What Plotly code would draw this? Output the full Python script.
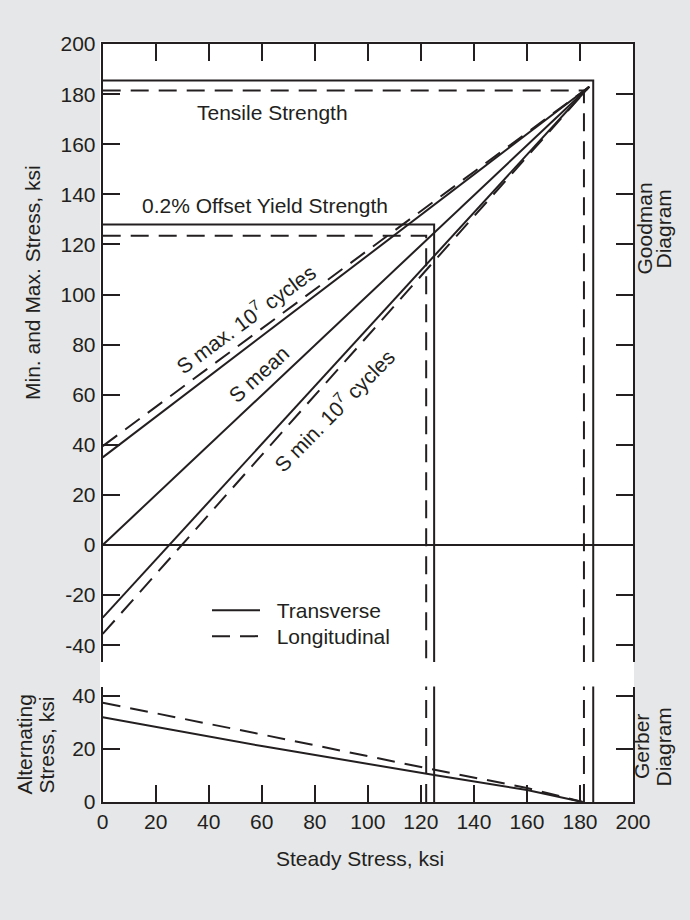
import plotly.graph_objects as go

INK = "#231f20"
BG = "#e6e7e8"
FONT = "Liberation Sans, Arial, Helvetica, sans-serif"
FS = 21
DASH = "18px,10px"
NB = "\u00a0\u00a0"

# ---------------- data (ksi) ----------------
x_tick_vals = [0, 20, 40, 60, 80, 100, 120, 140, 160, 180, 200]
goodman_tick_vals = [-40, -20, 0, 20, 40, 60, 80, 100, 120, 140, 160, 180, 200]
goodman_tick_text = ["-40", "-20", "0", "20", "40", "60", "80", "100", "120", "140",
                     "160", "180", "200"]
gerber_tick_vals = [0, 20, 40]

# Goodman diagram, transverse (solid)
tr_smax_x = [0, 183.5]
tr_smax_y = [35, 183]
tr_smean_x = [0, 183.5]
tr_smean_y = [0, 183]
tr_smin_x = [0, 183.5]
tr_smin_y = [-29, 183]
tr_uts_x = [0, 185, 185]
tr_uts_y = [185.5, 185.5, -60]
tr_ys_x = [0, 125, 125]
tr_ys_y = [128, 128, -60]

# Goodman diagram, longitudinal (dashed)
lo_smax_x = [0, 183.5]
lo_smax_y = [39.5, 183]
lo_smin_x = [0, 183.5]
lo_smin_y = [-35.5, 183]
lo_uts_x = [0, 181.5, 181.5]
lo_uts_y = [181.5, 181.5, -60]
lo_ys_x = [0, 122, 122]
lo_ys_y = [123.5, 123.5, -60]

# Gerber diagram (alternating stress vs steady stress)
gerber_tr_x = [0, 60, 125, 160, 181]
gerber_tr_y = [32, 21.1, 10.2, 4.5, 0]
gerber_lo_x = [0, 60, 122, 160, 181]
gerber_lo_y = [37.5, 25.5, 12.8, 5.3, 0]
# yield / tensile limits carried into the Gerber panel
gerber_tr_limits = [125, 185]
gerber_lo_limits = [122, 181.5]
gerber_limit_span = [0, 60]

# ---------------- figure ----------------
W, H = 690, 920
fig = go.Figure()


def line(x, y, dash, xa="x", ya="y", name=None, legend=False, lg="legend"):
    fig.add_trace(go.Scatter(
        x=x, y=y, mode="lines", xaxis=xa, yaxis=ya,
        line=dict(color=INK, width=2, dash=dash),
        name=name, showlegend=legend, legend=lg, hoverinfo="skip"))


# transverse
line(tr_smax_x, tr_smax_y, "solid", name=NB + "Transverse", legend=True, lg="legend")
line(tr_smean_x, tr_smean_y, "solid")
line(tr_smin_x, tr_smin_y, "solid")
line(tr_uts_x, tr_uts_y, "solid")
line(tr_ys_x, tr_ys_y, "solid")
# longitudinal
line(lo_smax_x, lo_smax_y, DASH, name=NB + "Longitudinal", legend=True, lg="legend2")
line(lo_smin_x, lo_smin_y, DASH)
line(lo_uts_x, lo_uts_y, DASH)
line(lo_ys_x, lo_ys_y, DASH)
# Gerber
line(gerber_tr_x, gerber_tr_y, "solid", "x2", "y2")
line(gerber_lo_x, gerber_lo_y, DASH, "x2", "y2")
for v in gerber_tr_limits:
    line([v, v], gerber_limit_span, "solid", "x2", "y2")
for v in gerber_lo_limits:
    line([v, v], gerber_limit_span, DASH, "x2", "y2")


def px_x(p):
    return p / W


def px_y(p):
    return 1 - p / H


XDOM = [px_x(102.7), px_x(633)]
TOP_DOM = [px_y(662), px_y(44)]
BOT_DOM = [px_y(802), px_y(686.5)]

axis_common = dict(showline=True, linecolor=INK, linewidth=2, ticks="inside",
                   ticklen=17, tickwidth=2, tickcolor=INK, showgrid=False,
                   zeroline=False, tickfont=dict(family=FONT, size=FS, color=INK),
                   fixedrange=True)

legend_common = dict(xanchor="left", yanchor="top", bgcolor="rgba(0,0,0,0)",
                     borderwidth=0, itemwidth=48,
                     font=dict(family=FONT, size=FS, color=INK))

fig.update_layout(
    width=W, height=H,
    margin=dict(l=0, r=0, t=0, b=0, autoexpand=False),
    paper_bgcolor=BG, plot_bgcolor="white",
    font=dict(family=FONT, size=FS, color=INK),
    xaxis=dict(**axis_common, domain=XDOM, range=[0, 200], anchor="y", side="top",
               tickmode="array", tickvals=x_tick_vals, showticklabels=False),
    yaxis=dict(**{**axis_common, "zeroline": True}, zerolinecolor=INK, zerolinewidth=2,
               domain=TOP_DOM, range=[-46.7, 200.05], anchor="x", mirror="ticks",
               tickmode="array", tickvals=goodman_tick_vals, ticktext=goodman_tick_text,
               ticklabelstandoff=1),
    xaxis2=dict(**axis_common, domain=XDOM, range=[0, 200], anchor="y2", side="bottom",
                tickmode="array", tickvals=x_tick_vals, ticklabelstandoff=0),
    yaxis2=dict(**axis_common, domain=BOT_DOM, range=[0, 43.6], anchor="x2", mirror="ticks",
                tickmode="array", tickvals=gerber_tick_vals, ticklabelstandoff=1),
    legend=dict(**legend_common, x=px_x(207), y=px_y(590)),
    legend2=dict(**legend_common, x=px_x(207), y=px_y(616)),
    showlegend=True,
)

# white drawing field spanning both diagrams
fig.add_shape(type="rect", xref="paper", yref="paper",
              x0=px_x(100), x1=px_x(634), y0=px_y(803.5), y1=px_y(41.5),
              fillcolor="white", line=dict(width=0), layer="below")


def note(text, x, y, angle=0, ref="paper", xref=None, yref=None):
    fig.add_annotation(text=text, x=x, y=y, xref=xref or ref, yref=yref or ref,
                       showarrow=False, textangle=angle, xanchor="center", yanchor="middle",
                       font=dict(family=FONT, size=FS, color=INK))


# axis titles & side labels
note("Min. and Max. Stress, ksi", px_x(32), px_y(283), -90)
note("Alternating", px_x(23.5), px_y(745), -90)
note("Stress, ksi", px_x(45.5), px_y(745), -90)
note("Goodman", px_x(643.5), px_y(229), -90)
note("Diagram", px_x(662.5), px_y(229), -90)
note("Gerber", px_x(641), px_y(747), -90)
note("Diagram", px_x(662.5), px_y(747), -90)
note("Steady Stress, ksi", px_x(360), px_y(858))

# in-plot labels (data coordinates)
note("Tensile Strength", 64, 172.5, 0, xref="x", yref="y")
note("0.2% Offset Yield Strength", 61.3, 135.5, 0, xref="x", yref="y")
note("S max. 10<sup>7</sup> cycles", 54, 90.5, -36.5, xref="x", yref="y")
note("S mean", 58.8, 68, -42, xref="x", yref="y")
note("S min. 10<sup>7</sup> cycles", 87, 54, -45.5, xref="x", yref="y")

fig.write_html("out.html",
               config={"displayModeBar": False, "staticPlot": True},
               post_script="document.body.style.margin='0';"
                           "document.body.style.overflow='hidden';")
